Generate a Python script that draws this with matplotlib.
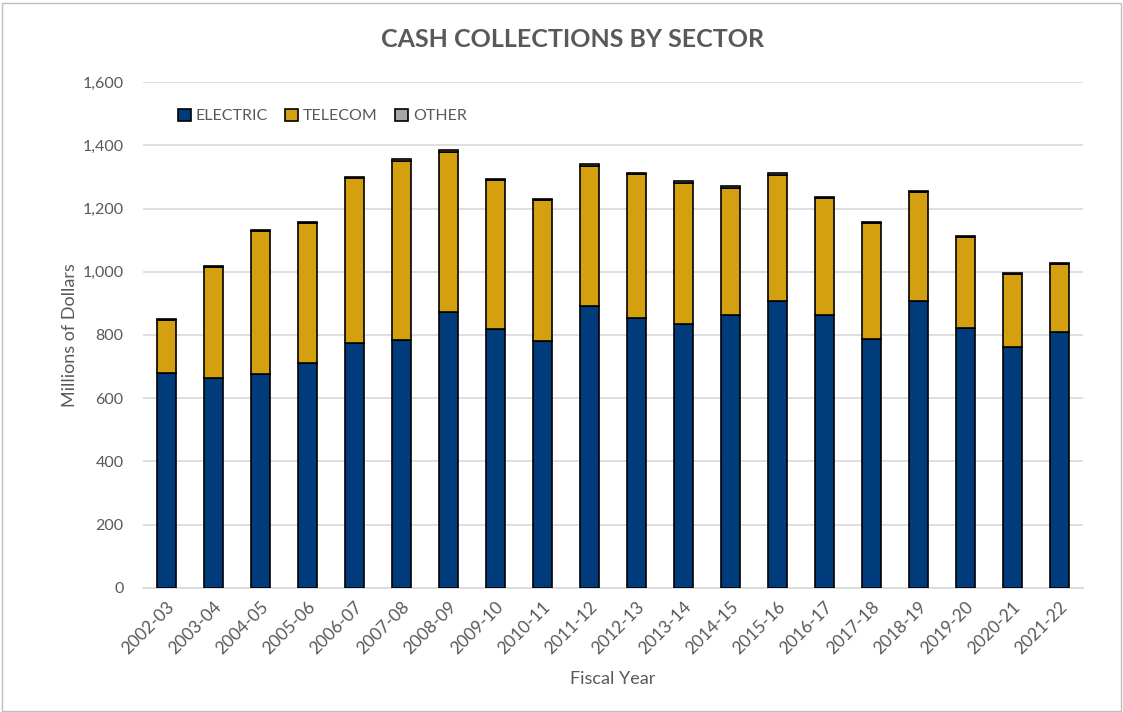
import numpy as np
import matplotlib.pyplot as plt
from matplotlib.patches import Rectangle

years = ['2002-03', '2003-04', '2004-05', '2005-06', '2006-07', '2007-08',
         '2008-09', '2009-10', '2010-11', '2011-12', '2012-13', '2013-14',
         '2014-15', '2015-16', '2016-17', '2017-18', '2018-19', '2019-20',
         '2020-21', '2021-22']
electric = [679, 663, 677, 712, 776, 784, 873, 818, 782, 891,
            855, 836, 863, 907, 864, 788, 907, 822, 761, 808]
telecom = [169, 352, 453, 442, 520, 565, 505, 471, 445, 444,
           454, 446, 403, 400, 370, 365, 345, 287, 233, 218]
other = [3, 4, 3, 4, 5, 8, 6, 4, 4, 5,
         4, 4, 4, 4, 3, 3, 4, 3, 3, 3]

plt.rcParams['font.family'] = ['Lato', 'DejaVu Sans']
text_color = '#595959'

fig = plt.figure(figsize=(11.23, 7.12), dpi=100)
ax = fig.add_axes([0.1273, 0.1742, 0.8371, 0.7106])

x = np.arange(len(years))
width = 0.4
elec = np.array(electric)
tele = np.array(telecom)
oth = np.array(other)
ax.bar(x, elec, width, color='#003B7B', edgecolor='black', linewidth=1.2,
       label='ELECTRIC', zorder=3)
ax.bar(x, tele, width, bottom=elec, color='#D4A00F', edgecolor='black',
       linewidth=1.2, label='TELECOM', zorder=3)
ax.bar(x, oth, width, bottom=elec + tele, color='#A6A6A6', edgecolor='black',
       linewidth=1.2, label='OTHER', zorder=3)

ax.set_xlim(-0.5, len(years) - 0.5)
ax.set_ylim(0, 1600)
ax.set_yticks(np.arange(0, 1601, 200))
ax.set_yticklabels(['{:,}'.format(v) for v in range(0, 1601, 200)])
ax.set_xticks(x)
ax.set_xticklabels(years, rotation=45, ha='right', rotation_mode='anchor')
ax.tick_params(axis='both', length=0, colors=text_color)
ax.tick_params(axis='y', pad=14, labelsize=11.5)
ax.tick_params(axis='x', pad=8, labelsize=12.5)

ax.grid(axis='y', color='#D9D9D9', linewidth=1.2, zorder=0)
for side in ['top', 'right', 'left']:
    ax.spines[side].set_visible(False)
ax.spines['bottom'].set_color('#D9D9D9')
ax.spines['bottom'].set_linewidth(1.2)

ax.set_ylabel('Millions of Dollars', fontsize=13, color=text_color, labelpad=3)
ax.set_xlabel('Fiscal Year', fontsize=13, color=text_color, labelpad=10)
fig.suptitle('CASH COLLECTIONS BY SECTOR', fontsize=18, fontweight='bold',
             color=text_color, x=0.51, y=0.96)

leg = ax.legend(loc='upper left', bbox_to_anchor=(0.022, 0.976), ncol=3,
                frameon=False, fontsize=11.5, handlelength=0.8,
                handleheight=0.8, handletextpad=0.3, columnspacing=1.1)
for t in leg.get_texts():
    t.set_color(text_color)

# light border around the whole chart area
fig.patches.append(Rectangle((0.002, 0.002), 0.996, 0.994,
                             transform=fig.transFigure, fill=False,
                             edgecolor='#BFBFBF', linewidth=1))

fig.savefig('out.png', dpi=100)
